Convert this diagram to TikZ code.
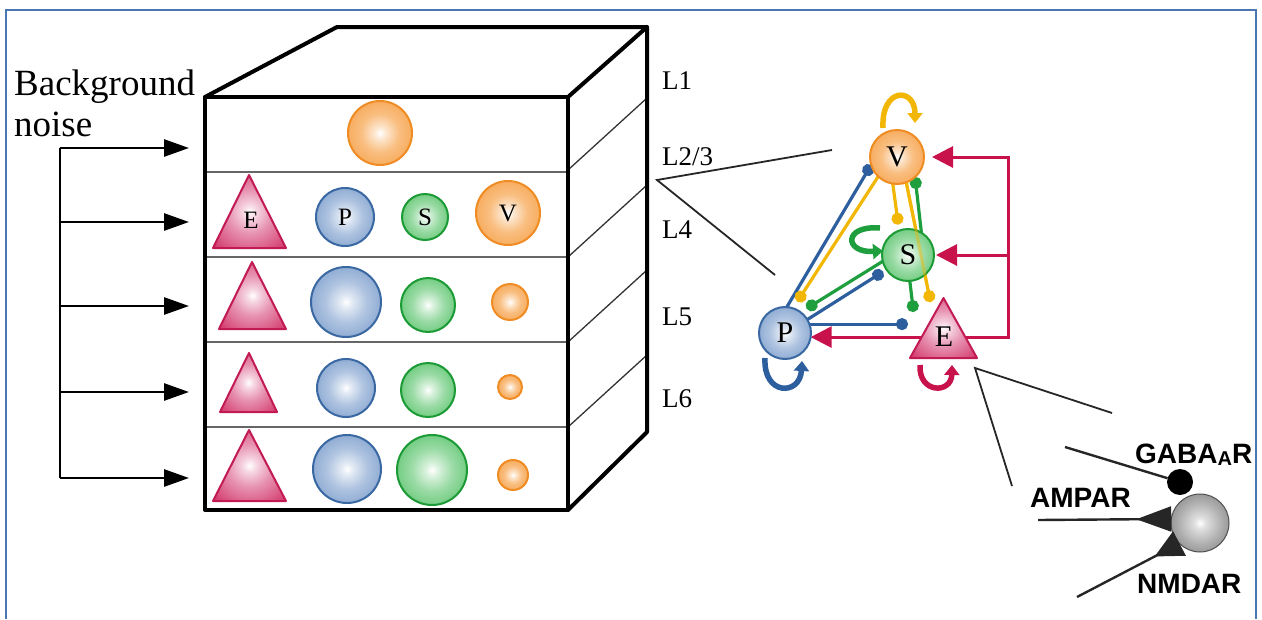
\documentclass[tikz,border=0pt]{standalone}
\usepackage{fontspec}
\setmainfont{Liberation Serif}
\newfontfamily\sansb{Liberation Sans}
\usetikzlibrary{arrows.meta,calc}
\pgfdeclarelayer{bg}
\pgfsetlayers{bg,main}

\definecolor{oE}{HTML}{F08C24}
\definecolor{oF}{HTML}{F6A048}
\definecolor{oL}{HTML}{F9BE80}
\definecolor{bE}{HTML}{3A68A2}
\definecolor{bF}{HTML}{7A9CCB}
\definecolor{bL}{HTML}{AEC3E0}
\definecolor{gE}{HTML}{1C9A36}
\definecolor{gF}{HTML}{55C268}
\definecolor{gL}{HTML}{9BDBA6}
\definecolor{rE}{HTML}{C21A52}
\definecolor{rF}{HTML}{D43F70}
\definecolor{rL}{HTML}{E793B2}
\definecolor{kE}{HTML}{505050}
\definecolor{kF}{HTML}{6A6A6A}
\definecolor{kL}{HTML}{B0B0B0}
\definecolor{lkB}{HTML}{2D5E9E}
\definecolor{lkY}{HTML}{F2B705}
\definecolor{lkG}{HTML}{1F9E3E}
\definecolor{lkR}{HTML}{C8124C}
\definecolor{frameC}{HTML}{4A76B4}

\pgfdeclareradialshading{shO}{\pgfpoint{0bp}{0bp}}{color(0bp)=(white); color(5bp)=(white!60!oL); color(15bp)=(oL); color(33bp)=(oF); color(50bp)=(oF)}
\pgfdeclareradialshading{shB}{\pgfpoint{0bp}{0bp}}{color(0bp)=(white); color(5bp)=(white!60!bL); color(15bp)=(bL); color(33bp)=(bF); color(50bp)=(bF)}
\pgfdeclareradialshading{shG}{\pgfpoint{0bp}{0bp}}{color(0bp)=(white); color(5bp)=(white!60!gL); color(15bp)=(gL); color(33bp)=(gF); color(50bp)=(gF)}
\pgfdeclareradialshading{shR}{\pgfpoint{0bp}{0bp}}{color(0bp)=(white); color(5bp)=(white!60!rL); color(15bp)=(rL); color(33bp)=(rF); color(50bp)=(rF)}
\pgfdeclareradialshading{shK}{\pgfpoint{0bp}{0bp}}{color(0bp)=(white); color(5bp)=(white!60!kL); color(18bp)=(kL); color(40bp)=(kF); color(50bp)=(kF)}

\tikzset{
  cellO/.style={circle, draw=oE, line width=2pt, shade, shading=shO, inner sep=0pt, outer sep=0pt},
  cellB/.style={circle, draw=bE, line width=2pt, shade, shading=shB, inner sep=0pt, outer sep=0pt},
  cellG/.style={circle, draw=gE, line width=2pt, shade, shading=shG, inner sep=0pt, outer sep=0pt},
  triR/.style={draw=rE, line width=2pt, shade, shading=shR, line join=round},
  clab/.style={font=\fontsize{25}{25}\selectfont, inner sep=0pt},
  nlab/.style={font=\fontsize{30}{30}\selectfont},
  thickline/.style={line width=4pt, line join=round, line cap=round},
  layline/.style={line width=1.8pt, draw=black!60},
  diagline/.style={line width=1.3pt, draw=black!80},
  noisearrow/.style={line width=2.8pt, -{Triangle[length=25pt,width=17pt]}},
  Llab/.style={font=\fontsize{27}{27}\selectfont, anchor=base west, inner sep=0pt},
  lkb/.style={draw=lkB, line width=3.2pt, -{Circle[length=12pt]}},
  lky/.style={draw=lkY, line width=3.2pt, -{Circle[length=12pt]}},
  lkg/.style={draw=lkG, line width=3.2pt, -{Circle[length=12pt]}},
  inh/.style={draw=lkR, line width=3pt, line join=miter, -{Triangle[length=21pt,width=21pt]}},
  selfloop/.style={line width=5.5pt, -{Triangle[length=10pt,width=15pt]}},
  zoomline/.style={line width=1.8pt, draw=black!85},
  rline/.style={line width=2.4pt, draw=black!85},
  rlab/.style={font=\sansb\bfseries\fontsize{28}{28}\selectfont, anchor=base west, inner sep=0pt}
}

\begin{document}
\begin{tikzpicture}[x=1pt,y=-1pt]
\useasboundingbox (0,0) rectangle (1262,619);
% frame
\draw[frameC, line width=2pt] (6,619) -- (6,10) -- (1256,10) -- (1256,619);

% ---------- box ----------
\coordinate (ftl) at (205,97);
\coordinate (ftr) at (568,97);
\coordinate (fbr) at (568,510);
\coordinate (fbl) at (205,510);
\coordinate (btl) at (337,27);
\coordinate (btr) at (647,27);
\coordinate (bbr) at (647,432);
\foreach \y in {172,257,342,427} \draw[layline] (205,\y) -- (568,\y);
\foreach \y in {170,257,342,427} \draw[diagline] (568,\y) -- (647,\y-72);
\draw[thickline] (ftl) rectangle (fbr);
\draw[thickline] (ftl) -- (btl) -- (btr) -- (ftr);
\draw[thickline] (btr) -- (bbr) -- (fbr);

% layer labels
\node[Llab] (L1) at (662,89) {L1};
\node[Llab] (L23) at (662,165) {L2/3};
\node[Llab] (L4) at (662,238) {L4};
\node[Llab] (L5) at (662,325) {L5};
\node[Llab] (L6) at (662,407) {L6};

% background noise
\node[anchor=north west, inner sep=0pt, align=left, font=\fontsize{37}{41}\selectfont] (bgn) at (14,70) {Background\\noise};
\coordinate (sp1) at (60,148);
\coordinate (sp5) at (60,478);
\coordinate (in1) at (189,148);
\coordinate (in2) at (189,222);
\coordinate (in3) at (189,306);
\coordinate (in4) at (189,392);
\coordinate (in5) at (189,478);
\draw[line width=2.8pt] (sp1) -- (sp5);
\foreach \i in {1,...,5} \draw[noisearrow] (sp1 |- in\i) -- (in\i);

% layer 1
\node[cellO, minimum size=64pt] (o1) at (380,133) {};
% layer 2/3
\shade[triR] (249,175) -- (286,248) -- (213,248) -- cycle;
\node[clab] (e23) at (251,220) {E};
\node[cellB, minimum size=58pt, clab] (p23) at (345,217) {P};
\node[cellG, minimum size=46pt, clab] (s23) at (425,217) {S};
\node[cellO, minimum size=64pt, clab] (v23) at (508,213) {V};
% layer 4
\shade[triR] (252,262) -- (286,329) -- (219,329) -- cycle;
\node[cellB, minimum size=70pt] (p4) at (346,302) {};
\node[cellG, minimum size=54pt] (s4) at (428,305) {};
\node[cellO, minimum size=36pt] (v4) at (510,302) {};
% layer 5
\shade[triR] (249,353) -- (277,412) -- (220,412) -- cycle;
\node[cellB, minimum size=58pt] (p5) at (346,388) {};
\node[cellG, minimum size=54pt] (s5) at (428,390) {};
\node[cellO, minimum size=24pt] (v5) at (510,387) {};
% layer 6
\shade[triR] (249,430) -- (286,501) -- (213,501) -- cycle;
\node[cellB, minimum size=68pt] (p6) at (347,469) {};
\node[cellG, minimum size=70pt] (s6) at (432,470) {};
\node[cellO, minimum size=30pt] (v6) at (513,475) {};

% ---------- network ----------
\coordinate (lv) at (657,180);
\coordinate (la) at (832,150);
\coordinate (lb) at (775,275);
\draw[zoomline] (la) -- (lv) -- (lb);

\node[cellO, minimum size=54pt, nlab] (V) at (897,157) {V};
\node[cellG, minimum size=52pt, nlab] (S) at (908,255) {S};
\node[cellB, minimum size=52pt, nlab] (P) at (785,333) {P};
\node[minimum width=67pt, minimum height=60pt, inner sep=0pt, outer sep=0pt] (Ebox) at (943.5,328) {};
\shade[triR] (Ebox.north) -- (Ebox.south east) -- (Ebox.south west) -- cycle;
\node[nlab, inner sep=0pt] (Elab) at (944,337) {E};
\coordinate (br) at (1008,337);

\begin{pgfonlayer}{bg}
  \draw[lkb] (P.86) -- (V.197);
  \draw[lky, shorten >=8pt] (V.226) -- (P.72);
  \draw[lkb, shorten >=4pt] (P.31) -- (S.214);
  \draw[lkb, shorten >=2pt] (P.20) -- (P.20 -| Ebox.west);
  \draw[lkg, shorten >=7pt] (S.194) -- (P.53);
  \draw[lky, shorten >=6pt] (V.261) -- (S.110);
  \draw[lky] (V.290) -- ($(Ebox.north)+(-13,4)$);
  \draw[lkg] (S.59) -- (V.312);
  \draw[lkg] (S.274) -- ($(Ebox.north)+(-30,14)$);
  \draw[inh] (P.351 -| Ebox.center) -- (P.351);
  \draw[inh, shorten >=8pt] (P.351 -| Ebox.center) -| (br |- V.east) -- (V.east);
  \draw[inh, shorten >=2pt] (br |- S.east) -- (S.east);
\end{pgfonlayer}
\draw[draw=lkY, line width=3.2pt, opacity=0.45] (V.290) -- ($(Ebox.north)+(-13,4)$);

% self loops
\draw[selfloop, draw=lkB] ($(P)+(-20,25)$) .. controls ($(P)+(-22,63)$) and ($(P)+(15,63)$) .. ($(P)+(17,28)$);
\draw[selfloop, draw=lkR] ($(Ebox)+(-23.5,37)$) .. controls ($(Ebox)+(-25,66)$) and ($(Ebox)+(8,66)$) .. ($(Ebox)+(8.5,37)$);
\draw[selfloop, draw=lkY] ($(V)+(-14,-29)$) .. controls ($(V)+(-16,-70)$) and ($(V)+(18,-70)$) .. ($(V)+(18,-34)$);
\draw[selfloop, draw=lkG] ($(S)+(-28,-27)$) .. controls ($(S)+(-65,-30)$) and ($(S)+(-64,-2)$) .. ($(S)+(-25,-4)$);

% ---------- receptors ----------
\coordinate (ev) at (975,368);
\coordinate (ea) at (1112,413);
\coordinate (eb) at (1012,486);
\draw[zoomline, line join=miter] (ea) -- (ev) -- (eb);

\node[circle, draw=kE, line width=1pt, shade, shading=shK, minimum size=58pt, inner sep=0pt, outer sep=0pt] (N) at (1200,523) {};
\node[circle, fill=black, minimum size=26pt, inner sep=0pt, outer sep=0pt] (G) at (1180,482) {};
\coordinate (ga) at (1065,447);
\coordinate (am) at (1038,520);
\coordinate (nm) at (1077,597);
\draw[rline] (ga) -- (G);
\draw[rline, -{Triangle[reversed,length=35pt,width=25pt]}] (am) -- (N.172);
\draw[rline, -{Triangle[reversed,length=28pt,width=27pt]}] (nm) -- (N.225);

\node[rlab] (tG) at (1135,463) {GABA\raisebox{-2pt}{\fontsize{20}{20}\selectfont A}R};
\node[rlab] (tA) at (1030,507) {AMPAR};
\node[rlab] (tN) at (1137,593) {NMDAR};
\end{tikzpicture}
\end{document}
